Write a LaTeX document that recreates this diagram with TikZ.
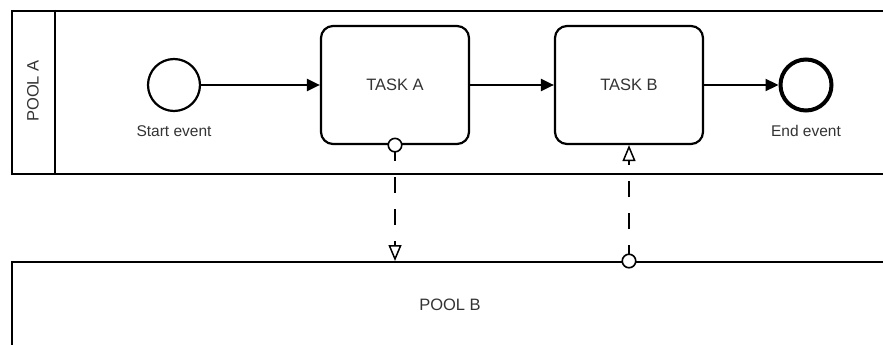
\documentclass[tikz,border=0pt]{standalone}
\usepackage{fontspec}
\setmainfont{Liberation Sans}
\usetikzlibrary{arrows.meta}
\definecolor{txt}{HTML}{333333}
\tikzset{
  lw/.style={line width=2.2pt},
  pool/.style={draw, lw, anchor=north west, inner sep=0pt},
  task/.style={draw, lw, rounded corners=12pt, minimum width=148pt, minimum height=118pt, inner sep=0pt, text=txt, font=\fontsize{16.5pt}{18pt}\selectfont},
  startev/.style={draw, lw, circle, minimum size=52pt, inner sep=0pt},
  endev/.style={draw, line width=4pt, circle, minimum size=51pt, inner sep=0pt},
  lbl/.style={text=txt, font=\fontsize{15.5pt}{18pt}\selectfont, inner sep=0pt},
  poollbl/.style={text=txt, font=\fontsize{16.5pt}{18pt}\selectfont, inner sep=0pt},
  flow/.style={lw, -{Triangle[length=13pt, width=12pt]}},
  msg/.style={line width=1.8pt, dash pattern=on 16pt off 16pt, -{Triangle[open, length=16pt, width=13pt, line width=1.5pt]}},
  msgdot/.style={draw, circle, line width=1.6pt, fill=white, minimum size=13.5pt, inner sep=0pt}
}
\begin{document}
\begin{tikzpicture}[x=1pt, y=-1pt]
\useasboundingbox (0,0) rectangle (883,345);
\clip (0,0) rectangle (883,345);
% pools
\node[pool, minimum width=900pt, minimum height=163pt] (poolA) at (11,10) {};
\draw[lw] (55,10) coordinate (divtop) -- (divtop |- poolA.south);
\node[poollbl, rotate=90] (poolAlbl) at (33,91) {POOL A};
\node[pool, minimum width=900pt, minimum height=200pt] (poolB) at (11,261) {};
\node[poollbl] (poolBlbl) at (450,305) {POOL B};
% elements
\node[startev] (start) at (174,85) {};
\node[lbl] (startlbl) at (174,131) {Start event};
\node[task] (ta) at (395,85) {TASK A};
\node[task] (tb) at (629,85) {TASK B};
\node[endev] (end) at (806,85) {};
\node[lbl] (endlbl) at (806,131) {End event};
% sequence flows
\draw[flow] (start) -- (ta);
\draw[flow] (ta) -- (tb);
\draw[flow] (tb) -- (end);
% message flows
\coordinate (ma) at (ta.south |- poolB.north);
\coordinate (mb) at (tb.south |- poolB.north);
\draw[msg] (ta.south) -- (ma);
\node[msgdot] (dota) at (ta.south) {};
\draw[msg] (mb) -- (tb.south);
\node[msgdot] (dotb) at (mb) {};
\end{tikzpicture}
\end{document}
